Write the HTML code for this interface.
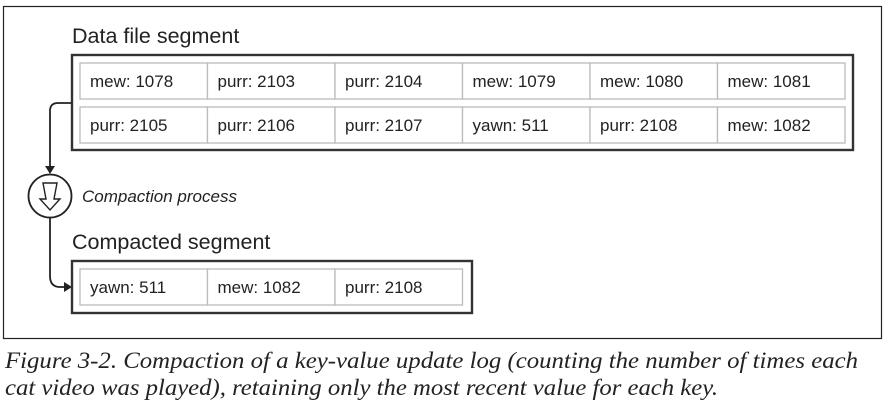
<!DOCTYPE html>
<html><head><meta charset="utf-8"><style>
body{margin:0;width:891px;height:409px;background:#fff;overflow:hidden}
svg{display:block}
.c{font-family:"Liberation Sans",sans-serif;font-size:17px;fill:#222}
</style></head><body>
<svg width="891" height="409">
<rect x="3.5" y="6.5" width="878" height="332" fill="none" stroke="#222" stroke-width="1.2"/>
<text x="72" y="43" font-family="Liberation Sans,sans-serif" font-size="21.5" fill="#222">Data file segment</text>
<rect x="72" y="55" width="781" height="95" fill="none" stroke="#333" stroke-width="2.4"/>
<text x="72" y="249" font-family="Liberation Sans,sans-serif" font-size="21.5" fill="#222">Compacted segment</text>
<rect x="72" y="261" width="400" height="52" fill="none" stroke="#333" stroke-width="2.4"/>
<g id="cells"></g>
<path d="M72 103 H58 Q50 103 50 111 V170" fill="none" stroke="#222" stroke-width="1.8"/>
<polygon points="45,166 55,166 50,174" fill="#222"/>
<circle cx="50" cy="196" r="21.5" fill="#fff" stroke="#222" stroke-width="1.8"/>
<path d="M43 183 H57 L54 199 H60 L50 210 L40 199 H46 Z" fill="none" stroke="#222" stroke-width="1.4"/>
<text x="82" y="202" font-family="Liberation Sans,sans-serif" font-style="italic" font-size="17" fill="#222">Compaction process</text>
<path d="M50 218 V276 Q50 287 60 287 H68" fill="none" stroke="#222" stroke-width="1.8"/>
<polygon points="64,282 72,287 64,292" fill="#222"/>
<text x="5" y="368" textLength="853" lengthAdjust="spacingAndGlyphs" font-family="Liberation Serif,serif" font-style="italic" font-size="23" fill="#222">Figure 3-2. Compaction of a key-value update log (counting the number of times each</text>
<text x="5" y="395" textLength="713" lengthAdjust="spacingAndGlyphs" font-family="Liberation Serif,serif" font-style="italic" font-size="23" fill="#222">cat video was played), retaining only the most recent value for each key.</text>
</svg>
<script>
const row1=["mew: 1078","purr: 2103","purr: 2104","mew: 1079","mew: 1080","mew: 1081"];
const row2=["purr: 2105","purr: 2106","purr: 2107","yawn: 511","purr: 2108","mew: 1082"];
const row3=["yawn: 511","mew: 1082","purr: 2108"];
const g=document.getElementById('cells');
const NS="http://www.w3.org/2000/svg";
function row(arr,y,nm){
  arr.forEach((t,i)=>{
    const x=80+i*127.5;
    const r=document.createElementNS(NS,'rect');
    r.setAttribute('x',x);r.setAttribute('y',y);r.setAttribute('width',127.5);r.setAttribute('height',36);
    r.setAttribute('fill','#fff');r.setAttribute('stroke','#bbb');r.setAttribute('stroke-width','1.3');
    
    
    g.appendChild(r);
    const tx=document.createElementNS(NS,'text');
    tx.setAttribute('x',x+10);tx.setAttribute('y',y+24);tx.setAttribute('class','c');
    tx.textContent=t;
    
    
    g.appendChild(tx);
  });
}
row(row1,63,'data-row1');row(row2,107,'data-row2');row(row3,269,'compacted');
</script>
</body></html>
